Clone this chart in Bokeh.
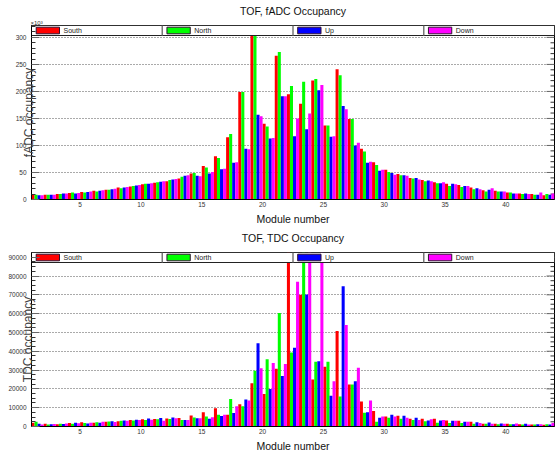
from bokeh.plotting import figure
from bokeh.models import Range1d, FixedTicker, Label, NumeralTickFormatter, Title
from bokeh.layouts import column
from bokeh.embed import file_html
from bokeh.resources import INLINE

# ---------------- data ----------------
modules = list(range(1, 44))
series_names = ["South", "North", "Up", "Down"]
series_colors = ["#ff0000", "#00ff00", "#0000ff", "#ff00ff"]

# fADC occupancy (x10^3)
fadc_south = [10, 9, 10, 12, 14, 16, 18, 22, 24, 28, 31, 34, 39, 48, 62, 80, 115, 199, 308, 140,
              266, 195, 177, 220, 137, 241, 149, 94, 69, 55, 47, 40, 36, 32, 29, 27, 22, 17, 16, 13,
              11, 10, 8]
fadc_north = [9, 9, 10, 13, 13, 15, 18, 21, 25, 29, 32, 36, 42, 49, 59, 77, 121, 199, 310, 135,
              273, 210, 218, 223, 137, 230, 149, 89, 64, 51, 45, 39, 34, 30, 25, 23, 19, 15, 15, 13,
              10, 9, 10]
fadc_up = [8, 9, 11, 11, 14, 16, 19, 22, 26, 29, 33, 37, 44, 44, 48, 56, 68, 94, 157, 113,
           191, 117, 130, 202, 116, 173, 100, 68, 53, 49, 45, 40, 35, 30, 29, 25, 21, 18, 15, 11,
           11, 9, 9]
fadc_down = [8, 9, 11, 12, 15, 17, 20, 23, 27, 30, 34, 38, 45, 43, 51, 57, 69, 93, 154, 114,
             191, 150, 159, 212, 117, 167, 105, 70, 55, 46, 44, 37, 34, 32, 28, 25, 19, 21, 15, 11,
             10, 13, 11]

# TDC occupancy
tdc_south = [2000, 1500, 1200, 1800, 2200, 2000, 2500, 2800, 3400, 3800, 4000, 4200, 4500, 5800, 7600,
             9700, 6300, 11800, 23000, 17300, 30700, 100000, 70000, 25000, 31700, 50800, 22300, 13300,
             8200, 5300, 5700, 4100, 4100, 4100, 3200, 3000, 2500, 1400, 1400, 1400, 1200, 1100, 900]
tdc_north = [2500, 1000, 1500, 1400, 1800, 2300, 2600, 3000, 3200, 3500, 3800, 4000, 3500, 4800, 5300,
             6200, 14600, 10800, 29600, 35800, 60300, 39300, 100000, 34400, 34400, 15900, 22300, 7300,
             2500, 4600, 4100, 3500, 2800, 2000, 1800, 1800, 1400, 1400, 1200, 1200, 1100, 1100, 1200]
tdc_up = [1500, 1200, 1300, 2000, 1600, 2000, 2800, 3200, 3600, 4200, 4500, 4800, 3500, 4400, 4100,
          5600, 7200, 14300, 44300, 19900, 26800, 41800, 70200, 34700, 16400, 74600, 24100, 7600,
          4600, 6200, 5700, 4600, 3200, 3200, 3000, 2500, 2300, 2100, 1600, 1200, 1400, 1200, 1100]
tdc_down = [1000, 1300, 1600, 1700, 2000, 2500, 2400, 3000, 3400, 3600, 3000, 4400, 3500, 4400, 4900,
            6300, 10800, 13800, 31000, 33700, 33200, 76900, 100000, 100000, 24000, 54000, 31200, 13800,
            5300, 5300, 4600, 3500, 3900, 3500, 3000, 2500, 1800, 1400, 1400, 1600, 1100, 1200, 1800]

fadc_ticks = [0, 50, 100, 150, 200, 250, 300]
tdc_ticks = [0, 10000, 20000, 30000, 40000, 50000, 60000, 70000, 80000, 90000]
x_ticks = [5, 10, 15, 20, 25, 30, 35, 40]

FONT = "Liberation Sans"
W, H = 556, 227
ML, MR, MT, MB = 31, 2, 25, 28
FW, FH = W - ML - MR, H - MT - MB
X0, X1 = 1, 44


def panel(title, ytitle, data, ymax, yticks, minor_step, ylab_standoff, multiplier=None):
    p = figure(width=W, height=H, output_backend="svg", toolbar_location=None, title=None,
               x_range=Range1d(X0, X1), y_range=Range1d(0, ymax),
               min_border_left=ML, min_border_right=MR, min_border_top=MT, min_border_bottom=MB)
    p.background_fill_color = "white"
    p.border_fill_color = "white"
    p.outline_line_color = "black"
    p.outline_line_width = 1

    pxx = (X1 - X0) / FW
    pxy = ymax / FH

    minor = []
    v = 0
    while v <= ymax:
        if v not in yticks:
            minor.append(v)
        v += minor_step
    yt = FixedTicker(ticks=yticks, minor_ticks=minor)

    p.xgrid.visible = False
    p.ygrid.ticker = FixedTicker(ticks=[t for t in yticks if t > 0])
    p.ygrid.grid_line_color = "#555555"
    p.ygrid.grid_line_dash = "1 2"
    p.ygrid.grid_line_width = 1

    ya = p.yaxis[0]
    ya.ticker = yt
    ya.formatter = NumeralTickFormatter(format="0")
    ya.major_tick_in = 8
    ya.major_tick_out = 0
    ya.minor_tick_in = 4
    ya.minor_tick_out = 0
    ya.major_tick_line_color = "#666666"
    ya.minor_tick_line_color = "#333333"
    ya.axis_line_color = "black"
    ya.major_label_text_font = FONT
    ya.major_label_text_font_size = "6.5px"
    ya.major_label_text_color = "#333333"
    ya.major_label_standoff = 5
    ya.axis_label = ytitle
    ya.axis_label_text_font = FONT
    ya.axis_label_text_font_size = "12px"
    ya.axis_label_text_font_style = "normal"
    ya.axis_label_text_color = "#444444"
    ya.axis_label_standoff = ylab_standoff

    # mirrored ticks on the right edge of the frame
    p.segment(x0=[X1 - 8 * pxx] * len(yticks), y0=yticks, x1=[X1] * len(yticks), y1=yticks,
              line_color="#666666", line_width=1)
    p.segment(x0=[X1 - 4 * pxx] * len(minor), y0=minor, x1=[X1] * len(minor), y1=minor,
              line_color="#333333", line_width=1)

    xa = p.xaxis[0]
    xa.ticker = FixedTicker(ticks=x_ticks, minor_ticks=[])
    xa.major_tick_in = 0
    xa.major_tick_out = 0
    xa.minor_tick_in = 0
    xa.minor_tick_out = 0
    xa.axis_line_color = "black"
    xa.major_label_text_font = FONT
    xa.major_label_text_font_size = "6.5px"
    xa.major_label_text_color = "#333333"
    xa.major_label_standoff = 2
    xa.axis_label = "Module number"
    xa.axis_label_text_font = FONT
    xa.axis_label_text_font_size = "10.5px"
    xa.axis_label_text_font_style = "normal"
    xa.axis_label_text_color = "#111111"
    xa.axis_label_standoff = 3

    # bars: each module spans [m, m+1], four bars of width 0.25
    for i, (vals, col) in enumerate(zip(data, series_colors)):
        xs = [m + 0.125 + 0.25 * i for m in modules]
        p.vbar(x=xs, top=vals, bottom=0, width=0.25, fill_color=col, line_color=None)

    # legend (ROOT-like band across the top of the frame)
    ltop = ymax
    lbot = ymax - 10 * pxy
    p.quad(left=[X0], right=[X1], top=[ltop], bottom=[lbot], fill_color="white",
           line_color="#222222", line_width=1)
    cw = (X1 - X0) / 4
    for i in range(1, 4):
        xd = X0 + i * cw
        p.segment(x0=[xd], y0=[lbot], x1=[xd], y1=[ltop], line_color="#777777", line_width=1.5)
    ymid = ymax - 5 * pxy
    for i, (name, col) in enumerate(zip(series_names, series_colors)):
        cl = X0 + i * cw
        p.quad(left=[cl + 4.7 * pxx], right=[cl + 28 * pxx], top=[ymid + 3.3 * pxy],
               bottom=[ymid - 3.3 * pxy], fill_color=col, line_color="#301030", line_width=1)
        p.add_layout(Label(x=cl + 32 * pxx, y=ymid, text=name, text_font=FONT,
                           text_font_size="7px", text_color="#222222",
                           text_align="left", text_baseline="middle"))

    if multiplier:
        p.add_layout(Title(text=multiplier, align="left", offset=-1, standoff=0,
                           text_font=FONT, text_font_size="6px", text_font_style="normal",
                           text_color="#333333"), "above")
    else:
        p.add_layout(Title(text=" ", align="left", standoff=0, text_font=FONT,
                           text_font_size="6px", text_font_style="normal"), "above")
    p.add_layout(Title(text=title, align="center", standoff=2, text_font=FONT,
                       text_font_size="10.5px", text_font_style="normal", text_color="#111111"),
                 "above")
    return p


p1 = panel("TOF, fADC Occupancy", "fADC occupancy",
           [fadc_south, fadc_north, fadc_up, fadc_down], 322, fadc_ticks, 10, -23,
           "\u00d710\u00b3")
p2 = panel("TOF, TDC Occupancy", "TDC occupancy",
           [tdc_south, tdc_north, tdc_up, tdc_down], 92500, tdc_ticks, 2500, -30)

layout = column(p1, p2, spacing=0)
open("out.html", "w").write(file_html(layout, INLINE))
